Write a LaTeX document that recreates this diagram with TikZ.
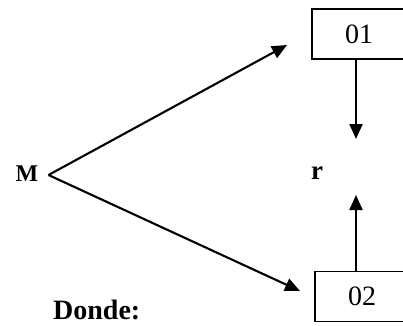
\documentclass[tikz,border=0pt]{standalone}
\usepackage{fontspec}
\setmainfont{Liberation Serif}
\usetikzlibrary{arrows.meta}
\begin{document}
\begin{tikzpicture}[x=1pt,y=-1pt,
  conn/.style={line width=2.1pt,-{Triangle[length=15pt,width=13pt]}},
  boxnode/.style={draw,line width=1.8pt,minimum width=94pt,minimum height=50pt,inner sep=0pt,font=\fontsize{28}{32}\selectfont},
  lbl/.style={inner sep=0pt,font=\bfseries\fontsize{24}{28}\selectfont}]
\useasboundingbox (0,0) rectangle (403,325);
\clip (0,0) rectangle (403,325);
\node[boxnode] (o1) at (359,34) {01};
\node[boxnode] (o2) at (362,296.5) {02};
\node[lbl] (m) at (27,174) {M};
\node[lbl,font=\bfseries\fontsize{27}{30}\selectfont] (r) at (317,173) {r};
\node[lbl,font=\bfseries\fontsize{28}{32}\selectfont,anchor=base west] (donde) at (53,319) {Donde:};
\coordinate (v) at ([xshift=10pt,yshift=-1pt]m.east);
\coordinate (t1) at (287,45);
\coordinate (t2) at (300,291);
\coordinate (d1) at (356,139);
\coordinate (u2) at (356,195);
\draw[conn] (v) -- (t1);
\draw[conn] (v) -- (t2);
\draw[conn] (o1.south -| d1) -- (d1);
\draw[conn] (o2.north -| u2) -- (u2);
\end{tikzpicture}
\end{document}
